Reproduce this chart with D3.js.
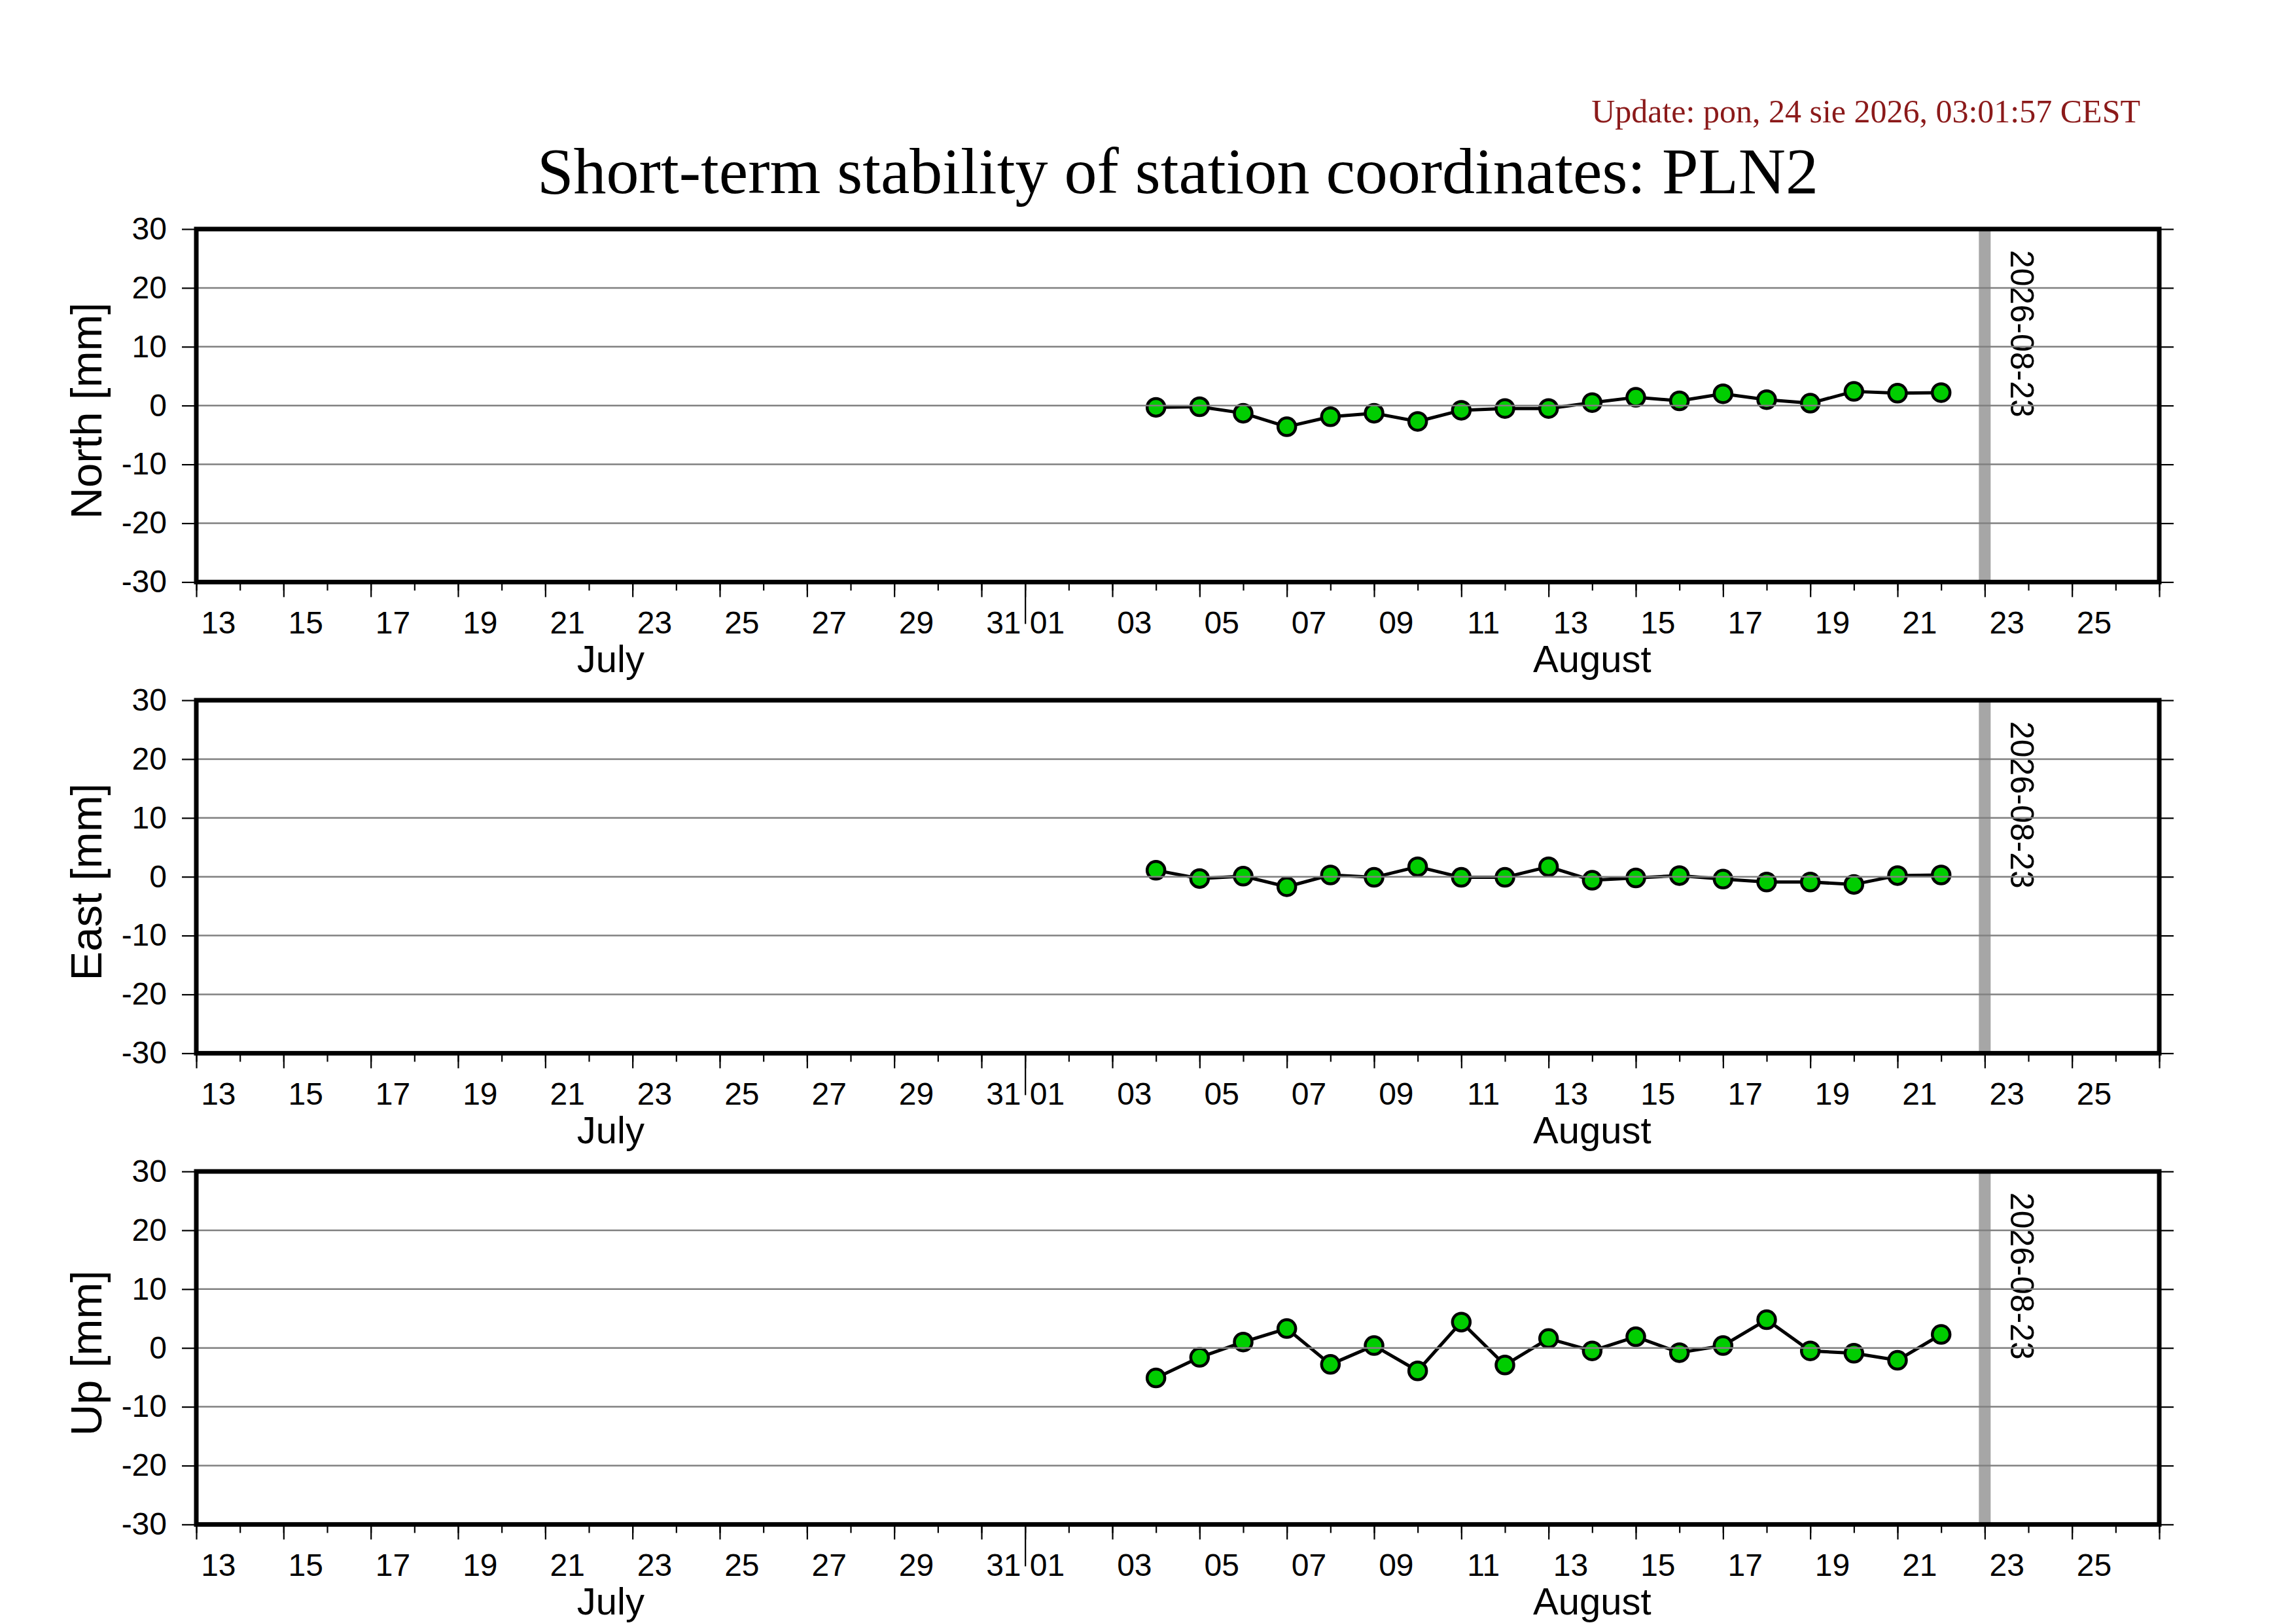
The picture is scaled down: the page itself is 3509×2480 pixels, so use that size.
<!DOCTYPE html>
<html>
<head>
<meta charset="utf-8">
<script src="https://cdn.jsdelivr.net/npm/d3@7"></script>
<style>
  html, body { margin: 0; padding: 0; background: #fff; }
  svg { display: block; }
</style>
</head>
<body>
<svg id="chart" width="3509" height="2480"></svg>
<script>
// ---------- DATA ----------
const dates = [
  "2026-08-04","2026-08-05","2026-08-06","2026-08-07","2026-08-08","2026-08-09","2026-08-10",
  "2026-08-11","2026-08-12","2026-08-13","2026-08-14","2026-08-15","2026-08-16","2026-08-17",
  "2026-08-18","2026-08-19","2026-08-20","2026-08-21","2026-08-22"
];
const north = [-0.3, -0.2, -1.3, -3.6, -1.9, -1.3, -2.7, -0.8, -0.5, -0.5, 0.5, 1.4, 0.8, 2.0, 1.0, 0.4, 2.4, 2.1, 2.2];
const east  = [1.1, -0.3, 0.1, -1.7, 0.3, -0.1, 1.7, -0.1, -0.1, 1.7, -0.6, -0.2, 0.2, -0.4, -0.9, -0.9, -1.3, 0.2, 0.3];
const up    = [-5.1, -1.6, 1.0, 3.3, -2.8, 0.4, -3.9, 4.4, -2.9, 1.6, -0.5, 1.9, -0.8, 0.4, 4.8, -0.5, -0.9, -2.1, 2.3];
const panelTitles = ["North [mm]", "East [mm]", "Up [mm]"];
const yTickValues = [-30, -20, -10, 0, 10, 20, 30];
const gridValues = [-20, -10, 0, 10, 20];
const xDomain = ["2026-07-13", "2026-08-27"];
const markerDate = "2026-08-23";
const markerLabel = "2026-08-23";
const monthLabels = [
  { name: "July", from: "2026-07-13", to: "2026-08-01" },
  { name: "August", from: "2026-08-01", to: "2026-08-27" }
];
const monthBoundaries = ["2026-08-01"];
const titleText = "Short-term stability of station coordinates: PLN2";
const updateText = "Update: pon, 24 sie 2026, 03:01:57 CEST";

// ---------- LAYOUT ----------
const svg = d3.select("#chart");
const left = 300, right = 3300;
const panelTops = [350, 1070, 1790];
const panelH = 539.4;
const parse = d3.utcParse("%Y-%m-%d");
const series = [north, east, up];

const x = d3.scaleUtc().domain(xDomain.map(parse)).range([left, right]);

const sans = "'Liberation Sans', Arial, Helvetica, sans-serif";
const serif = "'Liberation Serif', 'Times New Roman', serif";

// Title + update stamp
svg.append("text")
  .attr("x", (left + right) / 2).attr("y", 295)
  .attr("text-anchor", "middle")
  .attr("font-family", serif).attr("font-size", 100)
  .attr("fill", "#000").text(titleText);

svg.append("text")
  .attr("x", 3271).attr("y", 187)
  .attr("text-anchor", "end")
  .attr("font-family", serif).attr("font-size", 50)
  .attr("fill", "#8b1a1a").text(updateText);

const allDays = d3.utcDay.range(parse(xDomain[0]), d3.utcDay.offset(parse(xDomain[1]), 1));
const oddDays = allDays.filter(d => d.getUTCDate() % 2 === 1);
const labelDays = oddDays.filter(d => d < parse(xDomain[1])).map(d => d3.utcHour.offset(d, 12));

series.forEach((vals, i) => {
  const top = panelTops[i];
  const bottom = top + panelH;
  const y = d3.scaleLinear().domain([-30, 30]).range([bottom, top]);
  const g = svg.append("g");
  const pts = dates.map((d, k) => ({ date: parse(d), v: vals[k] }));

  // grey marker bar
  g.append("line")
    .attr("x1", x(parse(markerDate))).attr("x2", x(parse(markerDate)))
    .attr("y1", top).attr("y2", bottom)
    .attr("stroke", "#a6a6a6").attr("stroke-width", 18);

  // rotated date label
  const lx = x(parse(markerDate)) + 40, ly = top + 32;
  g.append("text")
    .attr("transform", `translate(${lx},${ly}) rotate(90)`)
    .attr("font-family", sans).attr("font-size", 50)
    .attr("fill", "#000").text(markerLabel);

  // data line + markers
  g.append("path").datum(pts)
    .attr("fill", "none").attr("stroke", "#000").attr("stroke-width", 5)
    .attr("stroke-linejoin", "round")
    .attr("d", d3.line().x(d => x(d.date)).y(d => y(d.v)));

  g.selectAll("circle").data(pts).join("circle")
    .attr("cx", d => x(d.date)).attr("cy", d => y(d.v))
    .attr("r", 13.5)
    .attr("fill", "#00cd00").attr("stroke", "#000").attr("stroke-width", 4.5);

  // gridlines (drawn over the data, as in the reference)
  g.selectAll("line.grid").data(gridValues).join("line")
    .attr("class", "grid")
    .attr("x1", left).attr("x2", right)
    .attr("y1", d => y(d)).attr("y2", d => y(d))
    .attr("stroke", "#808080").attr("stroke-width", 2.5);

  // y axes
  const yl = g.append("g").attr("transform", `translate(${left},0)`)
    .call(d3.axisLeft(y).tickValues(yTickValues).tickSize(22).tickPadding(23).tickFormat(d => String(d)));
  const yr = g.append("g").attr("transform", `translate(${right},0)`)
    .call(d3.axisRight(y).tickValues(yTickValues).tickSize(22).tickFormat(""));
  [yl, yr].forEach(a => {
    a.select(".domain").remove();
    a.selectAll("line").attr("stroke-width", 2.2);
    a.selectAll("text").attr("font-family", sans).attr("font-size", 48).attr("fill", "#000");
  });

  // x axes
  const xg = g.append("g").attr("transform", `translate(0,${bottom})`);
  const minor = xg.append("g").call(d3.axisBottom(x).tickValues(allDays.filter(d => d <= parse(xDomain[1]))).tickSize(13).tickFormat(""));
  const major = xg.append("g").call(d3.axisBottom(x).tickValues(oddDays.filter(d => d <= parse(xDomain[1]))).tickSize(23).tickFormat(""));
  const month = xg.append("g").call(d3.axisBottom(x).tickValues(monthBoundaries.map(parse)).tickSize(64).tickFormat(""));
  const labels = xg.append("g").call(d3.axisBottom(x).tickValues(labelDays).tickSize(0).tickPadding(45).tickFormat(d3.utcFormat("%d")));
  [minor, major, month, labels].forEach(a => {
    a.select(".domain").remove();
    a.selectAll("line").attr("stroke-width", 2.2);
    a.selectAll("text").attr("font-family", sans).attr("font-size", 48).attr("fill", "#000");
  });
  labels.selectAll("line").remove();

  // month names
  g.selectAll("text.month").data(monthLabels).join("text")
    .attr("class", "month")
    .attr("x", d => (x(parse(d.from)) + x(parse(d.to))) / 2)
    .attr("y", bottom + 138)
    .attr("text-anchor", "middle")
    .attr("font-family", sans).attr("font-size", 58)
    .attr("fill", "#000").text(d => d.name);

  // panel y title
  g.append("text")
    .attr("transform", `translate(155,${(top + bottom) / 2 + 8}) rotate(-90)`)
    .attr("text-anchor", "middle")
    .attr("font-family", sans).attr("font-size", 67)
    .attr("fill", "#000").text(panelTitles[i]);

  // frame
  g.append("rect")
    .attr("x", left).attr("y", top)
    .attr("width", right - left).attr("height", panelH)
    .attr("fill", "none").attr("stroke", "#000").attr("stroke-width", 7);
});
</script>
</body>
</html>
